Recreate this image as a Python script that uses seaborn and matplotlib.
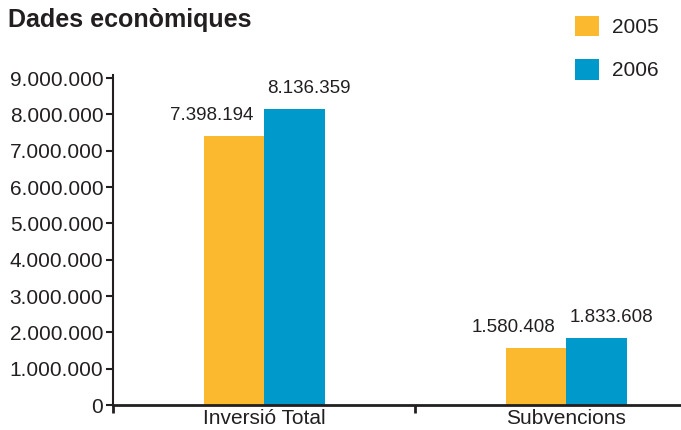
import matplotlib
matplotlib.use("Agg")
import matplotlib.pyplot as plt
import matplotlib.patches as mpatches
import seaborn as sns
import pandas as pd

# --- data ---
categories = ["Inversió Total", "Subvencions"]
years = ["2005", "2006"]
values_2005 = [7398194, 1580408]
values_2006 = [8136359, 1833608]
yticks = list(range(0, 9000001, 1000000))

colors = {"2005": "#FBB930", "2006": "#0099CC"}
TXT = "#231F20"

df = pd.DataFrame({
    "cat": categories * 2,
    "year": ["2005"] * 2 + ["2006"] * 2,
    "val": values_2005 + values_2006,
})

sns.set_style("white")
plt.rcParams["font.family"] = ["Liberation Sans", "DejaVu Sans"]

def fmt(v):
    return f"{v:,}".replace(",", ".")

fig = plt.figure(figsize=(6.81, 4.30), dpi=100)
ax = fig.add_axes([0.166, 0.058, 0.834, 0.7605])

sns.barplot(data=df, x="cat", y="val", hue="year", order=categories,
            hue_order=years, palette=colors, width=0.4, saturation=1,
            edgecolor="none", linewidth=0, legend=False, ax=ax)

# value labels, nudged away from the pair centre like the original
for cont, dx in zip(ax.containers, [-22, 15]):
    for bar in cont:
        h = bar.get_height()
        ax.annotate(fmt(int(h)), (bar.get_x() + bar.get_width() / 2, h),
                    xytext=(dx, 16), textcoords="offset pixels",
                    ha="center", va="baseline", fontsize=13.5, color=TXT)

ax.set_ylim(0, 9000000)
ax.set_xlim(-0.5, 1.38)
ax.set_yticks(yticks)
ax.set_yticklabels([fmt(t) for t in yticks], fontsize=15, color=TXT)
ax.set_xticks(range(len(categories)))
ax.set_xticklabels(categories, fontsize=15, color=TXT)
ax.set_xticks([-0.5, 0.5], minor=True)
ax.tick_params(axis="x", which="major", bottom=True, length=0, pad=3)
ax.tick_params(axis="x", which="minor", bottom=True, length=6, width=2, color=TXT, direction="out")
ax.tick_params(axis="y", left=True, length=5, width=1.5, color=TXT, pad=2, direction="out")
ax.set_xlabel("")
ax.set_ylabel("")

for s in ["top", "right"]:
    ax.spines[s].set_visible(False)
for s in ["left", "bottom"]:
    ax.spines[s].set_color(TXT)
ax.spines["bottom"].set_linewidth(2)
ax.spines["left"].set_linewidth(1.5)
ax.spines["left"].set_bounds(0, 9080000)

fig.text(8 / 681, 1 - 8 / 430, "Dades econòmiques", fontsize=18, fontweight="bold",
         color=TXT, ha="left", va="top")

handles = [mpatches.Patch(facecolor=colors[y], edgecolor="none", label=y) for y in years]
fig.legend(handles=handles, loc="upper right", bbox_to_anchor=(0.99, 1.0),
           frameon=False, fontsize=15, handlelength=1.15, handleheight=1.15,
           handletextpad=0.6, labelspacing=1.05, borderaxespad=0.35, labelcolor=TXT)

fig.savefig("out.png", dpi=100)
